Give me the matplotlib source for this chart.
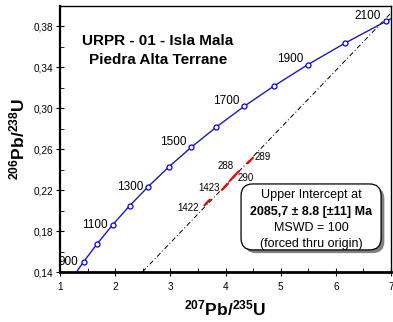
import numpy as np
import matplotlib
matplotlib.use("Agg")
import matplotlib.pyplot as plt
from matplotlib.patches import FancyBboxPatch

plt.rcParams['font.family'] = ['Liberation Sans', 'DejaVu Sans']
plt.rcParams['mathtext.fontset'] = 'custom'
plt.rcParams['mathtext.rm'] = 'Liberation Sans'
plt.rcParams['mathtext.bf'] = 'Liberation Sans:bold'

# Concordia curve (Ma ages with 207Pb/235U, 206Pb/238U)
conc_age = [845, 900, 1000, 1100, 1200, 1300, 1400, 1500, 1600, 1700, 1800, 1900, 2000, 2100, 2111]
conc_x = [1.298, 1.426, 1.677, 1.955, 2.260, 2.598, 2.970, 3.381, 3.834, 4.335, 4.887, 5.496, 6.169, 6.910, 7.000]
conc_y = [0.140, 0.1498, 0.1678, 0.1861, 0.2046, 0.2234, 0.2426, 0.2620, 0.2817, 0.3018, 0.3221, 0.3428, 0.3638, 0.3851, 0.3875]
marker_ages = [900, 1000, 1100, 1200, 1300, 1400, 1500, 1600, 1700, 1800, 1900, 2000, 2100]
label_ages = [900, 1100, 1300, 1500, 1700, 1900, 2100]

# Discordia (forced through origin) and upper intercept
origin = (0.0, 0.0)
upper_intercept = (6.800, 0.3820)

# Analyses (error ellipses)
spot_names = ['1422', '1423', '290', '288', '289']
spot_x = [3.664, 3.991, 4.120, 4.190, 4.444]
spot_y = [0.2078, 0.2233, 0.2315, 0.2355, 0.2487]
spot_half = [0.052, 0.060, 0.050, 0.050, 0.050]

xticks = [1, 2, 3, 4, 5, 6, 7]
yticks = [0.14, 0.18, 0.22, 0.26, 0.30, 0.34, 0.38]
ytick_labels = ['0,14', '0,18', '0,22', '0,26', '0,30', '0,34', '0,38']

fig = plt.figure(figsize=(3.93, 3.22), dpi=100)
ax = fig.add_axes([60/393, 50/322, 331/393, 266/322])
ax.set_xlim(1, 7)
ax.set_ylim(0.14, 0.40)

# discordia
ax.axline(origin, upper_intercept, color='black', lw=0.7, ls=(0, (5, 2.5, 1, 2.5)), zorder=2)

# concordia
ax.plot(conc_x, conc_y, color='#1a1ab4', lw=1.0, zorder=3)
mx = [conc_x[conc_age.index(a)] for a in marker_ages]
my = [conc_y[conc_age.index(a)] for a in marker_ages]
ax.plot(mx, my, ls='none', marker='o', ms=3.6, mfc='white', mec='#0000ff', mew=0.9, zorder=4)
for a in label_ages:
    i = conc_age.index(a)
    dy = 0 if a <= 1300 else 4
    ax.annotate(str(a), (conc_x[i], conc_y[i]), xytext=(-3.5, dy), textcoords='offset points',
                ha='right', va='center', fontsize=8.5, zorder=5)

# error ellipses
slope = upper_intercept[1] / upper_intercept[0]
t = np.linspace(0, 2*np.pi, 60)
px_x = 1/55.17
px_y = 1/1020.8
for cx, cy, h in zip(spot_x, spot_y, spot_half):
    ex = cx + h*np.cos(t) + 0.3*px_x*np.sin(t)
    ey = cy + h*slope*np.cos(t) - 0.3*px_y*np.sin(t)
    ax.plot(ex, ey, color='#e01010', lw=1.1, zorder=3)

# spot labels
spot_label_off = {'1422': (-6, -4, 'right'), '1423': (-4, -1, 'right'), '290': (4, 0, 'left'),
                  '288': (-2, 6, 'right'), '289': (3, 3, 'left')}
for n, cx, cy in zip(spot_names, spot_x, spot_y):
    ox, oy, ha = spot_label_off[n]
    ax.annotate(n, (cx, cy), xytext=(ox, oy), textcoords='offset points', ha=ha, va='center',
                fontsize=7, zorder=5)

# title
ax.text(0.295, 0.833, 'URPR - 01 - Isla Mala\nPiedra Alta Terrane', transform=ax.transAxes,
        fontsize=11, fontweight='bold', ha='center', va='center', linespacing=1.5)

# text box with shadow
bx0, by0, bw, bh = 0.547, 0.083, 0.423, 0.248
sh = FancyBboxPatch((bx0 + 0.010, by0 - 0.012), bw, bh, boxstyle='round,pad=0,rounding_size=0.035',
                    transform=ax.transAxes, fc='#808080', ec='none', zorder=6, mutation_aspect=331/266)
bx = FancyBboxPatch((bx0, by0), bw, bh, boxstyle='round,pad=0,rounding_size=0.035',
                    transform=ax.transAxes, fc='white', ec='black', lw=0.9, zorder=7, mutation_aspect=331/266)
ax.add_patch(sh)
ax.add_patch(bx)
cxb = bx0 + bw/2
lines = [('Upper Intercept at', 'normal'), ('2085,7 ± 8.8 [±11] Ma', 'bold'),
         ('MSWD = 100', 'normal'), ('(forced thru origin)', 'normal')]
for k, (s, w) in enumerate(lines):
    ax.text(cxb, by0 + bh - 0.043 - k*0.061, s, transform=ax.transAxes, ha='center', va='center',
            fontsize=9, fontweight=w, zorder=8)

# axes styling
ax.set_xticks(xticks)
ax.set_xticks(np.arange(1.5, 7, 1.0), minor=True)
ax.set_yticks(yticks)
ax.set_yticklabels(ytick_labels)
ax.set_yticks(np.arange(0.16, 0.40, 0.04), minor=True)
ax.tick_params(which='major', direction='inout', length=6, width=0.8, labelsize=7.2, pad=2)
ax.tick_params(which='minor', direction='in', length=3, width=0.6)
ax.tick_params(axis='x', which='major', pad=4)
ax.spines['bottom'].set_linewidth(2.0)
ax.spines['left'].set_linewidth(1.6)
ax.spines['top'].set_linewidth(1.0)
ax.spines['right'].set_linewidth(1.0)

ax.set_xlabel(r'$\mathbf{^{207}Pb/^{235}U}$', fontsize=12.5, labelpad=5)
ax.set_ylabel(r'$\mathbf{^{206}Pb/^{238}U}$', fontsize=12.5, labelpad=4)

fig.savefig('out.png', dpi=100)
